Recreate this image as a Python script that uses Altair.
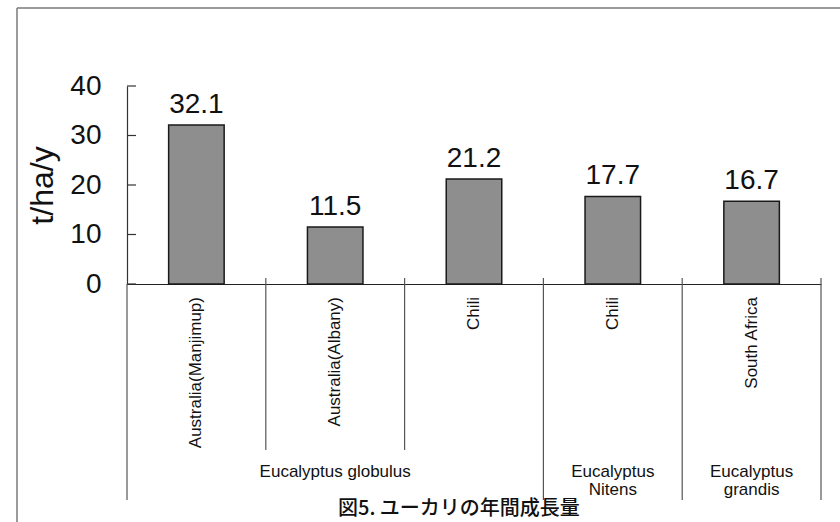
import altair as alt
import pandas as pd

# Annual growth of eucalyptus plantations (t/ha/y)
sites = ["Australia(Manjimup)", "Australia(Albany)", "Chili", "Chili", "South Africa"]
growth = [32.1, 11.5, 21.2, 17.7, 16.7]

species = ["Eucalyptus globulus", "Eucalyptus\nNitens", "Eucalyptus\ngrandis"]
species_first_site = [0, 3, 4]
species_last_site = [3, 4, 5]

y_ticks = [0, 10, 20, 30, 40]
y_title = "t/ha/y"
caption = "図5. ユーカリの年間成長量"

# ---- layout (plot area 694 x 198 px, y domain 0..40) ----
W, H = 694, 198
Y_MAX = 40
N = len(sites)
UY = Y_MAX / H          # data units per pixel, vertical
UX = N / W              # data units per pixel, horizontal
LATIN = "Liberation Sans"
CJK = "Noto Sans CJK JP"

xs = alt.Scale(domain=[0, N], nice=False, zero=False)
ys = alt.Scale(domain=[0, Y_MAX], nice=False, zero=False)

x_axis = alt.Axis(
    orient="bottom", labels=False, ticks=False, grid=False, title=None,
    domainColor="#222222", domainWidth=1.2,
)
y_axis = alt.Axis(
    values=y_ticks, ticks=False, grid=False, labelFont=LATIN, labelFontSize=28,
    labelColor="#111111", labelPadding=26, domainColor="#333333", domainWidth=1.2,
    title=y_title, titleFont=LATIN, titleFontSize=32, titleFontWeight="normal",
    titleColor="#111111", titleAngle=270, titleAlign="center", titleBaseline="middle",
    titleX=-85, titleY=99,
)


def X(field):
    return alt.X(field, type="quantitative", scale=xs, axis=x_axis)


def Y(field):
    return alt.Y(field, type="quantitative", scale=ys, axis=y_axis)


bars_df = pd.DataFrame({
    "site": sites,
    "x0": [i + 0.3 for i in range(N)],
    "x1": [i + 0.7 for i in range(N)],
    "xc": [i + 0.5 for i in range(N)],
    "value": growth,
})

# separators below the axis: long ones between species, short ones between sites
group_edges = sorted(set(species_first_site + species_last_site))
site_edges = [b for b in range(1, N) if b not in group_edges]
sep_df = pd.DataFrame(
    [{"x": b, "top": 6 * UY if b else 0, "bottom": -216 * UY} for b in group_edges]
    + [{"x": b, "top": 6 * UY, "bottom": -166 * UY} for b in site_edges]
)

grp_df = pd.DataFrame({
    "label": species,
    "xc": [(a + b) / 2 for a, b in zip(species_first_site, species_last_site)],
    "y": [-180 * UY] * len(species),
})

tick_df = pd.DataFrame({"y": y_ticks, "x0": [0] * len(y_ticks), "x1": [9 * UX] * len(y_ticks)})

# page frame (left and top edges)
fx = -110 * UX
ft = 276 * UY
frame_df = pd.DataFrame({
    "x": [fx, fx], "x2": [fx, 713 * UX],
    "y": [-238 * UY, ft], "y2": [ft, ft],
})

cap_df = pd.DataFrame({"label": [caption], "x": [211 * UX], "y": [-225 * UY]})
lab_df = bars_df.assign(ly=-13 * UY)

frame = alt.Chart(frame_df).mark_rule(color="#7a7a7a", strokeWidth=1.5).encode(
    x=X("x"), x2="x2", y=Y("y"), y2="y2",
)

seps = alt.Chart(sep_df).mark_rule(color="#555555", strokeWidth=1.2).encode(
    x=X("x"), y=Y("top"), y2="bottom",
)

bars = alt.Chart(bars_df).mark_bar(
    color="#8e8e8e", stroke="#1a1a1a", strokeWidth=1.5
).encode(
    x=X("x0"), x2="x1", y=Y("value"), y2=alt.datum(0),
)

values = alt.Chart(bars_df).mark_text(
    font=LATIN, fontSize=28, color="#111111", baseline="alphabetic", dy=-12
).encode(
    x=X("xc"), y=Y("value"),
    text=alt.Text("value:Q", format=".1f"),
)

ticks = alt.Chart(tick_df).mark_rule(color="#333333", strokeWidth=1.2).encode(
    x=X("x0"), x2="x1", y=Y("y"),
)

site_labels = alt.Chart(lab_df).mark_text(
    font=LATIN, fontSize=17, color="#111111", angle=270, align="right", baseline="middle"
).encode(
    x=X("xc"), y=Y("ly"), text="site:N",
)

group_labels = alt.Chart(grp_df).mark_text(
    font=LATIN, fontSize=17, color="#111111", align="center", baseline="top",
    lineBreak="\n", lineHeight=18
).encode(
    x=X("xc"), y=Y("y"), text="label:N",
)

cap = alt.Chart(cap_df).mark_text(
    font=CJK, fontSize=20, color="#111111", align="left", baseline="middle", fontWeight=500
).encode(
    x=X("x"), y=Y("y"), text="label:N",
)

chart = alt.layer(
    frame, seps, bars, values, ticks, site_labels, group_labels, cap
).properties(
    width=W, height=H,
    padding={"left": 127, "top": 86, "right": 19, "bottom": 238},
    autosize=alt.AutoSizeParams(type="none"),
    background="white",
).configure_view(stroke=None)

chart.save("out.html", embed_options={"renderer": "svg", "actions": False})
